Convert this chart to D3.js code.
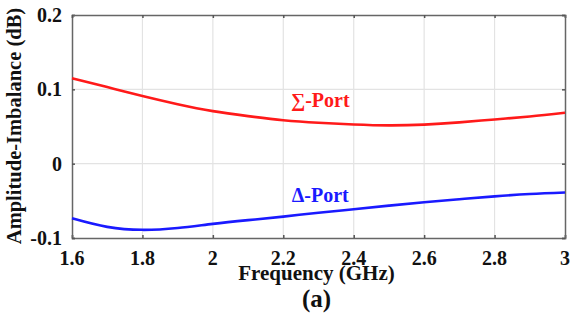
<!DOCTYPE html>
<html>
<head>
<meta charset="utf-8">
<script src="https://cdn.jsdelivr.net/npm/d3@7"></script>
<style>
  html, body { margin: 0; padding: 0; background: #fff; overflow: hidden; }
  svg { display: block; }
  svg text { font-family: "Times New Roman", "Liberation Serif", serif; font-weight: bold; }
</style>
</head>
<body>
<div id="chart"></div>
<script>
// data
const freq = [1.6, 1.7, 1.8, 1.9, 2.0, 2.1, 2.2, 2.3, 2.4, 2.5, 2.6, 2.7, 2.8, 2.9, 3.0];
const sumPort = [0.115, 0.103, 0.091, 0.080, 0.0707, 0.064, 0.0585, 0.055, 0.0527, 0.0515, 0.0525, 0.0555, 0.0595, 0.0635, 0.0685];
const deltaPort = [-0.0734, -0.085, -0.089, -0.0865, -0.081, -0.076, -0.0712, -0.066, -0.0613, -0.0565, -0.0518, -0.0478, -0.044, -0.0408, -0.0388];
const xTicks = [1.6, 1.8, 2.0, 2.2, 2.4, 2.6, 2.8, 3.0];
const yTicks = [-0.1, 0, 0.1, 0.2];

const width = 570, height = 328;
const margin = { top: 15, right: 5, bottom: 90, left: 72 };
const innerWidth = width - margin.left - margin.right;
const innerHeight = height - margin.top - margin.bottom;

const svg = d3.select('#chart').append('svg')
  .attr('width', width)
  .attr('height', height);

const g = svg.append('g')
  .attr('transform', `translate(${margin.left},${margin.top})`);

const x = d3.scaleLinear().domain([1.6, 3.0]).range([0, innerWidth]);
const y = d3.scaleLinear().domain([-0.1, 0.2]).range([innerHeight, 0]);

// grid
g.append('g').selectAll('line')
  .data(xTicks.slice(1, -1)).enter().append('line')
  .attr('x1', d => x(d)).attr('x2', d => x(d))
  .attr('y1', 0).attr('y2', innerHeight)
  .attr('stroke', '#e3e3e3').attr('stroke-width', 1.2);
g.append('g').selectAll('line')
  .data(yTicks.slice(1, -1)).enter().append('line')
  .attr('y1', d => y(d)).attr('y2', d => y(d))
  .attr('x1', 0).attr('x2', innerWidth)
  .attr('stroke', '#e3e3e3').attr('stroke-width', 1.2);

// axes: inward ticks on all four sides, labels drawn separately
g.append('g')
  .attr('transform', `translate(0,${innerHeight})`)
  .call(d3.axisBottom(x).tickValues(xTicks).tickSize(-3).tickFormat(''));
g.append('g')
  .call(d3.axisLeft(y).tickValues(yTicks).tickSize(-3).tickFormat(''));
g.append('g')
  .call(d3.axisTop(x).tickValues(xTicks).tickSize(-3).tickFormat(''));
g.append('g')
  .attr('transform', `translate(${innerWidth},0)`)
  .call(d3.axisRight(y).tickValues(yTicks).tickSize(-3).tickFormat(''));

svg.selectAll('.domain').attr('stroke', '#666').attr('stroke-width', 1.5);
svg.selectAll('.tick line').attr('stroke', '#555').attr('stroke-width', 1.5);
svg.selectAll('.tick text').remove();

// tick labels
g.append('g').selectAll('text')
  .data(xTicks).enter().append('text')
  .attr('x', d => x(d))
  .attr('y', innerHeight + 27)
  .attr('text-anchor', 'middle')
  .attr('font-size', 20).attr('fill', '#111')
  .text(d => String(d));
g.append('g').selectAll('text')
  .data(yTicks).enter().append('text')
  .attr('x', -10)
  .attr('y', d => y(d) + 7)
  .attr('text-anchor', 'end')
  .attr('font-size', 20).attr('fill', '#111')
  .text(d => String(d));

// curves
const line = d3.line()
  .x((d, i) => x(freq[i]))
  .y(d => y(d))
  .curve(d3.curveNatural);

g.append('path').datum(sumPort)
  .attr('fill', 'none').attr('stroke', '#ff1a1a').attr('stroke-width', 2.6)
  .attr('d', line);
g.append('path').datum(deltaPort)
  .attr('fill', 'none').attr('stroke', '#1a1aff').attr('stroke-width', 2.6)
  .attr('d', line);

// curve labels
g.append('text')
  .attr('x', x(2.305)).attr('y', y(0.076))
  .attr('text-anchor', 'middle')
  .attr('font-size', 20).attr('fill', '#ff1a1a')
  .text('∑-Port');
g.append('text')
  .attr('x', x(2.305)).attr('y', y(-0.051))
  .attr('text-anchor', 'middle')
  .attr('font-size', 20).attr('fill', '#1a1aff')
  .text('Δ-Port');

// axis titles
svg.append('text')
  .attr('x', margin.left + innerWidth / 2 - 2).attr('y', 280)
  .attr('text-anchor', 'middle')
  .attr('font-size', 21).attr('fill', '#111')
  .text('Frequency (GHz)');
svg.append('text')
  .attr('x', margin.left + innerWidth / 2 - 2).attr('y', 307)
  .attr('text-anchor', 'middle')
  .attr('font-size', 25).attr('fill', '#111')
  .text('(a)');
svg.append('text')
  .attr('transform', 'rotate(-90)')
  .attr('x', -126).attr('y', 21)
  .attr('text-anchor', 'middle')
  .attr('font-size', 20.5).attr('fill', '#111')
  .text('Amplitude-Imbalance (dB)');
</script>
</body>
</html>
